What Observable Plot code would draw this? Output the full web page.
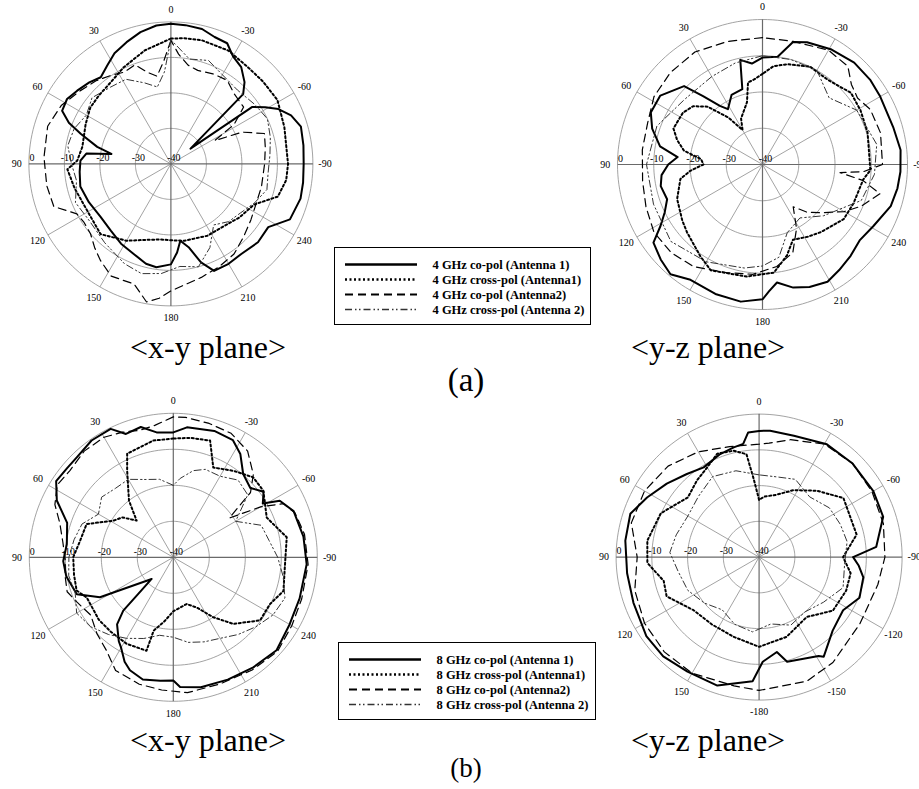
<!DOCTYPE html>
<html><head><meta charset="utf-8">
<script src="https://cdn.jsdelivr.net/npm/d3@7"></script>
<script src="https://cdn.jsdelivr.net/npm/@observablehq/plot@0.6"></script>
<style>
html,body{margin:0;padding:0;background:#fff;overflow:hidden}
#page{position:relative;width:919px;height:789px;overflow:hidden;background:#fff}
.abs{position:absolute}
.lbl{position:absolute;font-family:"Liberation Serif","Times New Roman",serif;color:#000;white-space:nowrap;line-height:1;transform:translateX(-50%)}
.legend{position:absolute;border:1px solid #000;background:#fff}
</style></head><body><div id="page"></div><script>
// ---------- axis definitions ----------
const ringDb = [-30, -20, -10, 0];
const spokeAngles = [0, 30, 60, 90, 120, 150, 180, 210, 240, 270, 300, 330];
const angleLabelsA = ["0","30","60","90","120","150","180","210","240","-90","-60","-30"];
const angleLabelsB = ["0","30","60","90","120","150","-180","-150","-120","-90","-60","-30"];
const radialValues = [-40, -30, -20, -10, 0];
const radialLabels = ["-40","-30","-20","-10","0"];

// ---------- data: [angle (deg, CCW from top), level (dB)] ----------
// (a) 4 GHz, x-y plane
const a_xy_co1 = [[0,-0.5],[6,-0.8],[13,-1.9],[20,-3.5],[27,-5],[33,-7],[39,-8.6],[45,-7.5],[52,-6.5],[58,-5.5],[64,-5.9],[68,-9],[71.5,-13.2],[77,-18.7],[80.5,-23],[83,-16],[88,-14.5],[95,-14.2],[104,-13.7],[115,-14.5],[127,-15.2],[138,-14.7],[148,-13.5],[158,-12.5],[166,-11],[172,-10.6],[180,-11.7],[184,-15],[187,-18.2],[192,-16],[197,-11],[202,-7.5],[210,-7.5],[218,-7.8],[228,-7],[237,-7.3],[245,-3],[255,-2.2],[262,-2.4],[270,-2.6],[278,-2.3],[286,-1.9],[292,-3.5],[297,-6],[301,-9],[305,-12],[308,-33],[314,-11.7],[318,-9],[324,-6.3],[330,-5],[335,-2.5],[341,-2.2],[347,-1],[354,-0.7]];
const a_xy_cross1 = [[0,-4.7],[13,-7.2],[26,-9.7],[36,-11.4],[46,-12],[55,-12.3],[65,-13.5],[79,-14.6],[88,-13.6],[93,-10.8],[98,-11.5],[104,-12],[119,-13],[135,-12],[150,-15],[162,-17.5],[172,-18.5],[180,-18.5],[190,-18],[207,-17.3],[220,-17],[232,-15.5],[244,-13.9],[253,-8.5],[262,-7.2],[270,-7],[288,-6.4],[301,-5],[312,-5.2],[321,-5.2],[333,-4.2],[346,-4.1],[354,-4.4]];
const a_xy_co2 = [[0,-5.2],[4,-11],[9,-15],[14,-13.5],[20,-10.3],[27,-11],[34,-9.9],[42,-8.5],[51,-7.2],[62,-5],[73,-3.7],[87,-4.2],[100,-4.5],[110,-4.9],[118,-10],[124,-10.5],[131,-10],[138,-8],[144,-6.3],[152,-4.2],[163,-4.6],[170,-0.5],[175,-2],[180,-4.2],[188,-6],[195,-6.9],[205,-8],[215,-9],[225,-11],[235,-12.5],[245,-13.5],[256,-13.7],[270,-13.6],[280,-13],[288,-12.3],[294,-18],[298,-26],[302,-19],[308,-14],[318,-13.4],[326,-11.6],[335,-12],[344,-12.6],[350,-11.8],[356,-9]];
const a_xy_cross2 = [[0,-5],[4,-14],[10,-18],[18,-16],[28,-13],[38,-12.5],[50,-11],[60,-12.5],[70,-11],[80,-10.5],[90,-12],[100,-13],[112,-11],[125,-12],[140,-11],[155,-9],[165,-8],[175,-9],[185,-11],[195,-10],[205,-14],[215,-19],[225,-17],[235,-16],[245,-14],[255,-12],[265,-12.5],[275,-12],[285,-11],[295,-10],[305,-11],[318,-12],[330,-11],[340,-9],[350,-10]];
// (a) 4 GHz, y-z plane
const a_yz_co1 = [[0,-10.5],[6,-12],[12,-10.5],[15,-18.5],[24,-19],[32,-22],[36,-20],[41,-15],[45,-9.4],[56,-6],[65,-6],[72,-8],[80,-11.3],[85,-16.5],[90,-14],[96,-12],[102,-11.3],[110,-12],[116,-10],[121,-7.2],[125.6,-3],[133,-1.6],[140,-0.5],[148,-2.5],[160,-2],[171,-1.7],[180,-2.8],[183,-5],[187,-7.2],[194,-5],[201,-3.8],[209,-3],[216,-4],[224,-5],[232,-6],[241,-5],[252,-2.8],[260,-2.2],[267,-1.9],[276,-1.7],[286,-2.5],[300,-2.5],[308,-2.2],[318,-2.2],[329,-3],[340,-4.1],[346,-5.2],[352,-10]];
const a_yz_cross1 = [[0,-15],[6,-16.5],[10,-17],[14,-22.3],[25,-26],[30,-29],[36,-24],[43.5,-18],[50,-15],[57,-13.8],[68,-13.5],[74,-15.5],[80,-18],[85,-23],[90,-23.7],[95,-20],[100,-17],[112,-14.6],[125,-13],[132,-12],[146,-9.4],[154,-7.5],[172,-8.8],[186,-10],[195,-14],[202,-17.6],[212,-16.5],[220.5,-15.4],[236,-13],[247,-12.7],[261.5,-11.9],[267,-10.2],[287,-9.7],[299,-9.1],[309,-8.6],[322.6,-10.5],[334,-10],[346,-11.5],[353.6,-12.7]];
const a_yz_co2 = [[0,-5],[16,-4.7],[31,-3.8],[45,-4.1],[58,-4.7],[70,-6.3],[83,-6.6],[98,-6.6],[110,-5.8],[122,-4.7],[134,-5],[146,-6],[162,-8.6],[175,-9.6],[188,-11.6],[199,-14.3],[208,-20],[216,-25.6],[223,-22],[230,-19.3],[240,-14],[247,-10.5],[256,-6.6],[261,-12],[264,-18.5],[266,-12],[270,-6.9],[285,-6.3],[297,-6.6],[305,-8],[312,-7],[319,-4.1],[330,-3.6],[346,-5]];
const a_yz_cross2 = [[0,-10],[15,-11],[30,-12],[50,-12],[70,-9],[90,-8],[110,-8],[130,-7],[150,-9],[170,-11],[180,-12],[190,-14],[200,-20],[215,-22],[230,-18],[250,-11],[265,-9],[280,-8],[300,-10],[315,-14],[330,-10],[345,-10]];
// (b) 8 GHz, x-y plane
const b_xy_co1 = [[0,-5.3],[7.6,-5],[14,-2.7],[21,-3.3],[26,-0.3],[35,-0.4],[44,-1.4],[50,-1.5],[57,-1.2],[64,-4],[72,-9],[83,-10.2],[92,-9.4],[100,-9.8],[111,-11.3],[118.6,-16.8],[135,-31.5],[136.8,-19.7],[140,-15.7],[147,-12.2],[150,-11],[155,-8],[159,-6.4],[166,-5],[174,-5.5],[180,-5.8],[183,-3.9],[192,-3.1],[204,-2.8],[216,-2.2],[228,-1.4],[240,-2.7],[252,-3.1],[267,-2.9],[279,-3.4],[291,-4.2],[298,-6.5],[301,-11],[306,-9],[312,-11.2],[320,-9.8],[327,-5.8],[333,-3.5],[342,-3.1],[354,-3.7]];
const b_xy_cross1 = [[0,-7],[9.7,-7.1],[24,-8.5],[28,-12.7],[38,-20],[45,-25.6],[52,-22],[58.6,-20.5],[69,-14.2],[80,-13.7],[90,-12.2],[100,-12],[109,-11.6],[115,-13.5],[130,-13],[140,-13],[151.7,-12.7],[164,-13],[165,-18.9],[172,-22],[180,-25],[196,-26.5],[205,-24.6],[213.7,-20],[222,-15.1],[234,-10.2],[244,-10.2],[253,-8],[265,-8.9],[280,-8],[293,-11.8],[306.5,-8.9],[315,-8.6],[325,-10.7],[336,-12.7],[342.5,-6],[352,-6.5]];
const b_xy_co2 = [[0,-1],[8,-3],[15,-3.5],[22,-2.5],[30,-1.5],[40,-1.5],[50,-2.5],[58,-2],[66,-4],[73,-7],[82,-9],[92,-10],[100,-9.5],[108,-9],[115,-10.5],[125,-12],[135,-10],[144.5,-8.1],[153,-4.7],[165,-3.5],[175,-3],[186,-2.2],[200,-2.5],[215,-1.8],[228,-1],[240,-2],[252,-2.5],[267,-2.5],[280,-3],[290,-4],[296,-6],[300,-12],[305,-21],[310,-12],[316,-8],[325,-4],[335,-2],[345,-1.5],[355,-1]];
const b_xy_cross2 = [[0,-20],[10,-18],[20,-17],[30,-15],[40,-15],[50,-14],[60,-16],[70,-13],[80,-12],[90,-11],[100,-10.5],[110,-11],[120,-9],[130,-10],[140,-12],[150,-14],[160,-16],[170,-18],[180,-17.8],[190,-16],[200,-15],[210,-14],[220,-12],[230,-10],[240,-8],[250,-7],[260,-9],[270,-11],[280,-13],[290,-14],[300,-20],[310,-13],[320,-12],[330,-14],[340,-14],[347,-15.3],[355,-18]];
// (b) 8 GHz, y-z plane
const b_yz_co1 = [[0,-4.7],[5,-5],[8,-8],[13,-8.5],[20.7,-9.2],[31.7,-10.5],[41,-9.2],[51.5,-7],[62,-4.5],[71.4,-2],[83,-2.3],[97,-2.8],[110,-2.6],[125,-1.5],[136,-1.4],[148,-2.2],[162,-2.2],[177,-5.2],[182,-10.7],[190.6,-13],[195,-9.7],[211,-7.7],[213,-6.8],[225,-10.9],[237.7,-12.2],[248,-9.7],[259,-10.3],[265,-12],[270,-13.7],[275,-7.1],[288,-3.5],[300,-3.1],[315,-3],[329,-3.2],[344,-4.7],[355,-4.5]];
const b_yz_cross1 = [[0,-24],[4,-18],[7,-11],[13.5,-9.4],[22,-8.8],[30,-11],[39,-12.4],[50,-14],[57,-12.6],[66,-9.9],[81.6,-8.4],[93,-8.7],[104,-12.5],[113,-11.9],[129,-16.4],[145,-17],[162,-16.6],[180,-14.9],[199,-16.4],[218.5,-18.6],[234,-14.5],[249,-13.9],[260,-14],[270,-16.5],[283,-12],[305,-11.2],[319,-15.4],[333,-19],[345,-22],[355,-23]];
const b_yz_co2 = [[0,-8.4],[15,-8],[30,-6],[45,-4],[60,-3],[75,-3],[90,-5.9],[105,-4],[120,-3],[135,-2.5],[150,-2.5],[169,-3.3],[180,-2.7],[201,-2.8],[215,-4],[236.6,-6.2],[257,-5.9],[270,-4.8],[285,-4],[300,-3.5],[315,-3],[330,-3.5],[345,-6],[355,-8]];
const b_yz_cross2 = [[0,-17],[15,-15],[30,-14],[45,-16],[60,-17],[75,-16],[87,-15],[100,-17],[115,-18],[130,-20],[145,-22],[160,-20],[175,-19],[190,-21],[205,-19],[220,-20],[235,-18],[250,-15],[265,-16],[280,-15],[292,-15.5],[305,-16],[320,-18],[335,-16],[347,-17]];

const legendA = ["4 GHz co-pol (Antenna 1)","4 GHz cross-pol (Antenna1)","4 GHz co-pol (Antenna2)","4 GHz cross-pol (Antenna 2)"];
const legendB = ["8 GHz co-pol (Antenna 1)","8 GHz cross-pol (Antenna1)","8 GHz co-pol (Antenna2)","8 GHz cross-pol (Antenna 2)"];

// ---------- styles ----------
const lineStyles = [
  {stroke:"#000", strokeWidth:2, strokeDasharray:null},
  {stroke:"#000", strokeWidth:2, strokeDasharray:"2,2.5"},
  {stroke:"#000", strokeWidth:1.2, strokeDasharray:"8,5"},
  {stroke:"#333", strokeWidth:1, strokeDasharray:"7,3,1.5,2.5,1.5,3"}
];
const FONT = '"Liberation Serif","Times New Roman",serif';

const polar = (a, r) => ({x: -r*Math.sin(a*Math.PI/180), y: r*Math.cos(a*Math.PI/180)});
const rad = db => Math.max(0, (db + 40) / 40);

const page = document.getElementById("page");

function panel(seriesList, angleLabels, cx, cy, R) {
  const k = 1.2;
  const S = 2 * R * k;
  const marks = [];
  const ringPts = ringDb.flatMap(db => d3.range(0, 361, 2).map(a => ({...polar(a, rad(db)), ring: db})));
  marks.push(Plot.line(ringPts, {x: "x", y: "y", z: "ring", stroke: "#8c8c8c", strokeWidth: 0.8}));
  const minor = spokeAngles.filter(a => a % 90 !== 0), major = spokeAngles.filter(a => a % 90 === 0);
  marks.push(Plot.link(minor, {x1: () => 0, y1: () => 0, x2: a => polar(a, 1).x, y2: a => polar(a, 1).y, stroke: "#8c8c8c", strokeWidth: 0.8}));
  marks.push(Plot.link(major, {x1: () => 0, y1: () => 0, x2: a => polar(a, 1).x, y2: a => polar(a, 1).y, stroke: "#6a6a6a", strokeWidth: 1.2}));
  seriesList.forEach((data, i) => {
    const closed = data.concat([[data[0][0] + 360, data[0][1]]]);
    const pts = closed.map(([a, d]) => polar(a, rad(d)));
    const st = lineStyles[i];
    const opts = {x: "x", y: "y", stroke: st.stroke, strokeWidth: st.strokeWidth, strokeLinejoin: "round"};
    if (st.strokeDasharray) opts.strokeDasharray = st.strokeDasharray;
    marks.push(Plot.line(pts, opts));
  });
  marks.push(Plot.text(spokeAngles, {x: a => polar(a, 1.085).x, y: a => polar(a, 1.085).y, text: (a, i) => angleLabels[i], fontFamily: FONT, fontSize: 10, fill: "#000"}));
  marks.push(Plot.text(radialValues, {x: v => polar(90, rad(v)).x, y: v => polar(90, rad(v)).y, text: (v, i) => radialLabels[i], dx: 3, dy: -6, fontFamily: FONT, fontSize: 10, fill: "#000"}));
  const svg = Plot.plot({
    width: S, height: S, margin: 0,
    x: {domain: [-k, k], axis: null},
    y: {domain: [-k, k], axis: null},
    style: {background: "transparent", overflow: "visible"},
    marks
  });
  svg.classList.add("abs");
  svg.style.left = (cx - R * k) + "px";
  svg.style.top = (cy - R * k) + "px";
  page.appendChild(svg);
}

function legend(labels, left, top, w, h) {
  const div = document.createElement("div");
  div.className = "legend";
  div.style.left = left + "px"; div.style.top = top + "px";
  div.style.width = w + "px"; div.style.height = h + "px";
  const marks = labels.map((lab, i) => {
    const st = lineStyles[i];
    const o = {y: d => d, x1: () => 10, x2: () => 82, stroke: st.stroke, strokeWidth: st.strokeWidth + 0.6};
    if (st.strokeDasharray) o.strokeDasharray = st.strokeDasharray;
    return Plot.ruleY([lab], o);
  });
  marks.push(Plot.text(labels, {y: d => d, x: () => 97, text: d => d, textAnchor: "start", fontFamily: FONT, fontWeight: "bold", fontSize: 12.5, fill: "#000"}));
  const svg = Plot.plot({
    width: w, height: h, margin: 0,
    x: {domain: [0, w], axis: null},
    y: {type: "point", domain: labels, range: [15.5, 60.5], padding: 0, axis: null},
    style: {background: "transparent", overflow: "visible", fontSize: "12.5px"},
    marks
  });
  div.appendChild(svg);
  page.appendChild(div);
}

function label(text, cx, baseline, size) {
  const d = document.createElement("div");
  d.className = "lbl";
  d.textContent = text;
  d.style.fontSize = size + "px";
  d.style.left = cx + "px";
  d.style.top = (baseline - 0.84 * size) + "px";
  page.appendChild(d);
}

panel([a_xy_co1, a_xy_cross1, a_xy_co2, a_xy_cross2], angleLabelsA, 170, 163, 142);
panel([a_yz_co1, a_yz_cross1, a_yz_co2, a_yz_cross2], angleLabelsA, 762, 164, 145);
panel([b_xy_co1, b_xy_cross1, b_xy_co2, b_xy_cross2], angleLabelsA, 173, 557, 144);
panel([b_yz_co1, b_yz_cross1, b_yz_co2, b_yz_cross2], angleLabelsB, 759, 557, 143);

legend(legendA, 334, 247, 255, 76);
legend(legendB, 338, 642, 256, 76);

label("<x-y plane>", 208, 358, 32);
label("<y-z plane>", 708, 358, 32);
label("(a)", 466, 392, 33);
label("<x-y plane>", 208, 751, 32);
label("<y-z plane>", 708, 751, 32);
label("(b)", 466, 778, 27);
</script></body></html>
